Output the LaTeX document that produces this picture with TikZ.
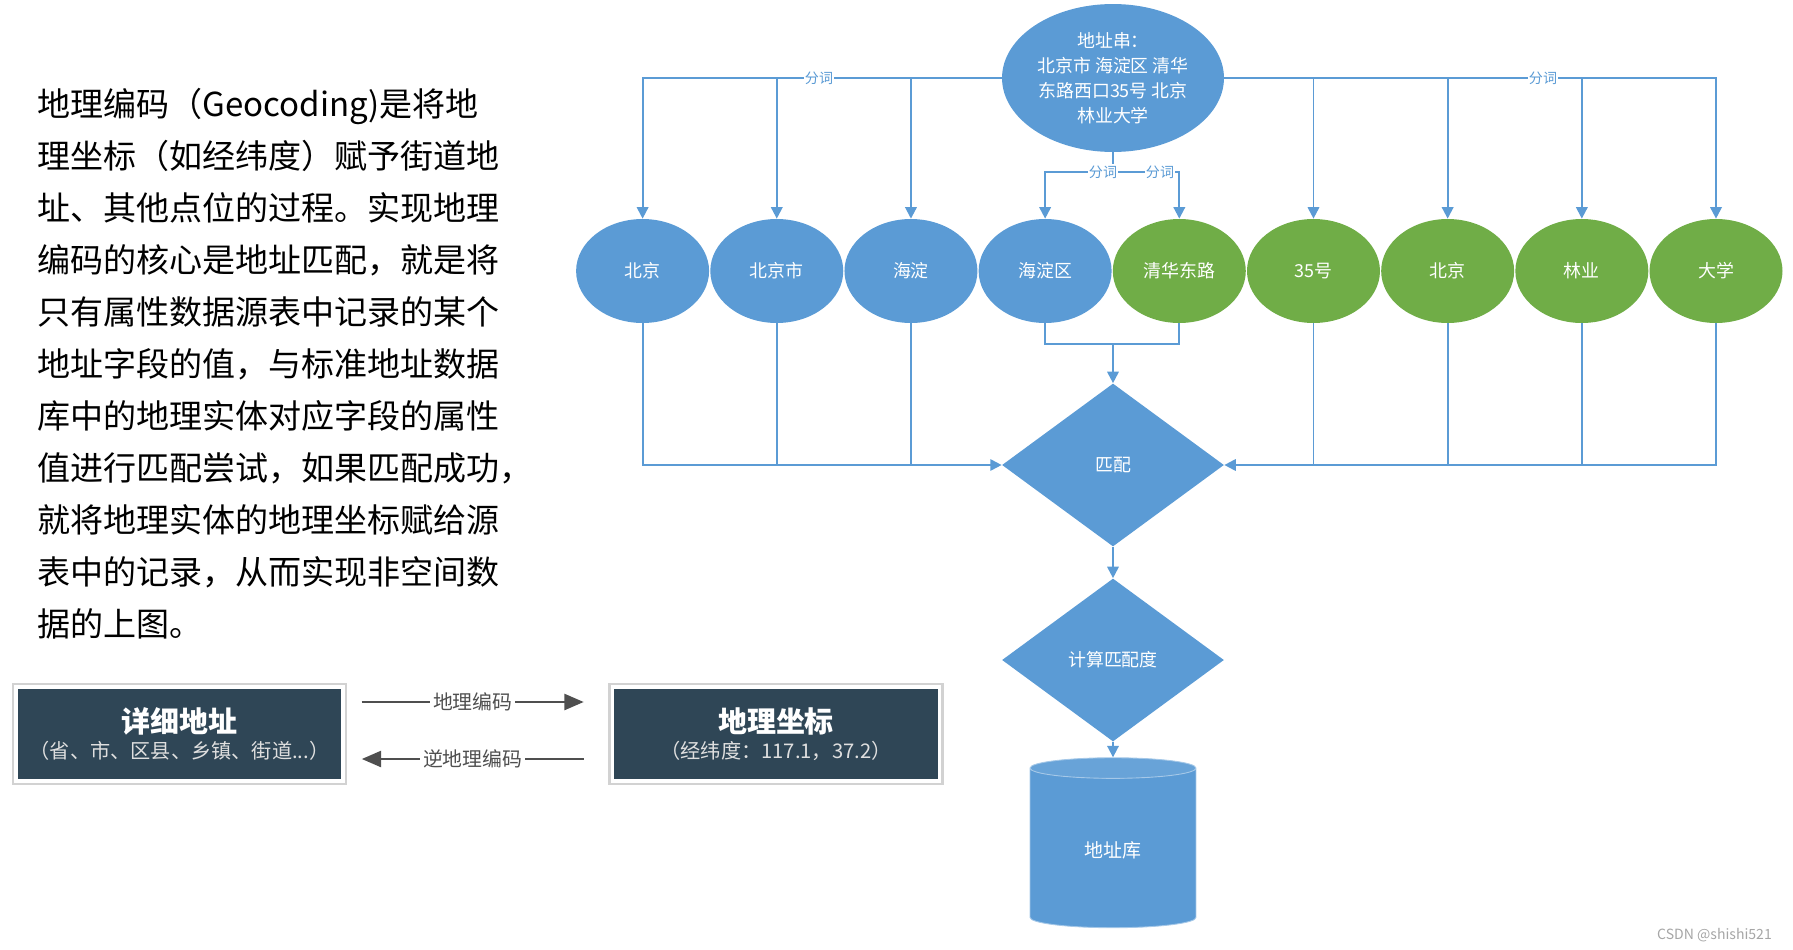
\documentclass[tikz,border=0pt]{standalone}
\usepackage{fontspec}
\newfontfamily\cjk{Noto Sans CJK SC}
\usepackage{tikz}
\usetikzlibrary{positioning,shapes.geometric,arrows.meta}

\definecolor{wordblue}{HTML}{5B9BD5}
\definecolor{wordgreen}{HTML}{70AD47}
\definecolor{boxdark}{HTML}{2F4656}
\definecolor{arrowgray}{HTML}{4F4F4F}

\tikzset{
  word/.style={ellipse, minimum width=2.66cm, minimum height=2.08cm, inner sep=0pt,
    text=white, font=\cjk\fontsize{10.2}{12}\selectfont},
  blueword/.style={word, fill=wordblue},
  greenword/.style={word, fill=wordgreen},
  flow/.style={draw=wordblue, line width=1.1pt},
  cut/.style={fill=white, text=wordblue, inner sep=0.8pt, font=\cjk\fontsize{8}{8}\selectfont},
  decision/.style={diamond, fill=wordblue, minimum width=4.44cm, minimum height=3.26cm,
    inner sep=0pt, text=white, font=\cjk\fontsize{10.2}{12}\selectfont},
  infobox/.style={rectangle, fill=boxdark, draw=white, line width=2pt,
    preaction={draw=gray!35, line width=5pt}, minimum width=6.54cm, minimum height=1.88cm,
    text=white, align=center, font=\cjk},
  geo/.style={draw=arrowgray, line width=1.6pt, -{Triangle[width=9pt,length=11pt]}},
  geolabel/.style={fill=white, text=arrowgray, inner sep=1.5pt, font=\cjk\fontsize{11.3}{12}\selectfont}
}

\begin{document}
\begin{tikzpicture}[x=0.02cm, y=-0.02cm, >={Triangle[width=6.5pt,length=6.5pt]}]
        \useasboundingbox (0,0) rectangle (1793,950);

        \node[anchor=north west, inner sep=0pt, align=left,
              font=\cjk\fontsize{18.8}{29.6}\selectfont] (intro) at (37,88)
            {地理编码（Geocoding)是将地\\理坐标（如经纬度）赋予街道地\\址、其他点位的过程。实现地理\\编码的核心是地址匹配，就是将\\只有属性数据源表中记录的某个\\地址字段的值，与标准地址数据\\库中的地理实体对应字段的属性\\值进行匹配尝试，如果匹配成功，\\就将地理实体的地理坐标赋给源\\表中的记录，从而实现非空间数\\据的上图。};

        % address string split into words
        \node[ellipse, fill=wordblue, minimum width=4.44cm, minimum height=2.96cm, inner sep=0pt,
              text=white, align=center, font=\cjk\fontsize{10.2}{14.2}\selectfont] (addr) at (1113,78)
            {地址串：\\北京市 海淀区 清华\\东路西口35号 北京\\林业大学};

        \node[blueword] (beijing) at (642.6,271) {北京};
        \node[blueword, right=0.01cm of beijing] (beijingshi) {北京市};
        \node[blueword, right=0.01cm of beijingshi] (haidian) {海淀};
        \node[blueword, right=0.01cm of haidian] (haidianqu) {海淀区};
        \node[greenword, right=0.01cm of haidianqu] (qinghua) {清华东路};
        \node[greenword, right=0.01cm of qinghua] (hao) {35号};
        \node[greenword, right=0.01cm of hao] (beijingb) {北京};
        \node[greenword, right=0.01cm of beijingb] (linye) {林业};
        \node[greenword, right=0.01cm of linye] (daxue) {大学};

        \draw[flow,->] (addr.west) -| (beijing.north);
        \draw[flow,->] (addr.west) -| (beijingshi.north);
        \draw[flow,->] (addr.west) -| (haidian.north);
        \draw[flow,->] (addr.east) -| (hao.north);
        \draw[flow,->] (addr.east) -| (beijingb.north);
        \draw[flow,->] (addr.east) -| (linye.north);
        \draw[flow,->] (addr.east) -| (daxue.north);
        \node[cut] (cutleft) at (819,78) {分词};
        \node[cut] (cutright) at (1543,78) {分词};

        \coordinate (split) at (1113,172);
        \draw[flow] (addr.south) -- (split);
        \draw[flow,->] (split) -| (haidianqu.north);
        \draw[flow,->] (split) -| (qinghua.north);
        \node[cut] (cutmidl) at (1103,172) {分词};
        \node[cut] (cutmidr) at (1160,172) {分词};

        % matching
        \node[decision] (match) at (1113,465) {匹配};
        \node[decision] (score) at (1113,660) {计算匹配度};
        \node[cylinder, shape border rotate=90, aspect=0.3, minimum width=3.32cm, minimum height=3.4cm,
              cylinder uses custom fill, cylinder body fill=wordblue, cylinder end fill=wordblue!92!white,
              draw=wordblue!55!white, line width=0.5pt, text=white,
              font=\cjk\fontsize{10.8}{12}\selectfont] (db) at (1113,850) {地址库};

        \coordinate (merge) at (1113,344);
        \draw[flow] (haidianqu.south) |- (merge) -| (qinghua.south);
        \draw[flow,->] (merge) -- (match.north);
        \draw[flow,->] (beijing.south) |- (match.west);
        \draw[flow] (beijingshi.south) -- (beijingshi.south |- match.west);
        \draw[flow] (haidian.south) -- (haidian.south |- match.west);
        \draw[flow,->] (daxue.south) |- (match.east);
        \draw[flow] (hao.south) -- (hao.south |- match.east);
        \draw[flow] (beijingb.south) -- (beijingb.south |- match.east);
        \draw[flow] (linye.south) -- (linye.south |- match.east);
        \draw[flow,->] (match) -- (score);
        \draw[flow,->] (score) -- (db);

        % geocoding and reverse geocoding
        \node[infobox] (detail) at (179.5,734)
            {{\fontsize{16.5}{18}\selectfont\bfseries 详细地址}\\[3pt]{\fontsize{11.5}{12}\selectfont\color{gray!25}（省、市、区县、乡镇、街道...）}};
        \node[infobox] (coord) at (776,734)
            {{\fontsize{16.5}{18}\selectfont\bfseries 地理坐标}\\[3pt]{\fontsize{11.5}{12}\selectfont\color{gray!25}（经纬度：117.1，37.2）}};
        \draw[geo] ([shift={(17,-32)}]detail.east) -- ([shift={(-27,-32)}]coord.west)
            node[geolabel, midway] (geolbl) {地理编码};
        \draw[geo] ([shift={(-27,25)}]coord.west) -- ([shift={(17,25)}]detail.east)
            node[geolabel, midway] (revlbl) {逆地理编码};

        \node[anchor=east, text=gray!70, font=\cjk\fontsize{8}{8}\selectfont] (mark) at (1778,935) {CSDN @shishi521};
    \end{tikzpicture}
\end{document}
